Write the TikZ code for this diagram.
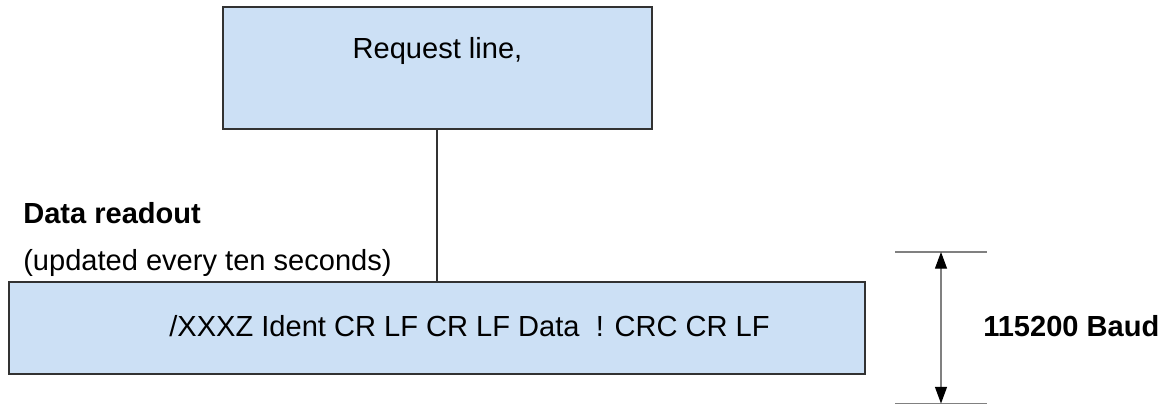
\documentclass[tikz,border=0pt]{standalone}
\usepackage{fontspec}
\setmainfont{Liberation Sans}
\usetikzlibrary{arrows.meta}
\definecolor{boxfill}{RGB}{204,224,245}
\definecolor{boxline}{RGB}{50,50,50}
\definecolor{dimline}{RGB}{128,128,128}
\begin{document}
\begin{tikzpicture}[x=0.75pt,y=-0.75pt,
  boxstyle/.style={draw=boxline, fill=boxfill, line width=0.8pt, inner sep=0pt, outer sep=0pt},
  txt/.style={font=\fontsize{21.8}{26}\selectfont, inner sep=0pt, anchor=base},
  btxt/.style={font=\fontsize{21.8}{26}\selectfont\bfseries, inner sep=0pt, anchor=base west},
  ltxt/.style={font=\fontsize{21.8}{26}\selectfont, inner sep=0pt, anchor=base west},
  conn/.style={draw=boxline, line width=0.8pt},
  dimh/.style={draw=dimline, line width=0.9pt},
  dima/.style={draw=dimline, line width=0.9pt, {Triangle[length=12.5pt,width=9pt,black]}-{Triangle[length=12.5pt,width=9pt,black]}}
]
\useasboundingbox (0,0) rectangle (1168,405);
% boxes
\node[boxstyle, minimum width=429*0.75pt, minimum height=122*0.75pt] (req) at (437.5,68) {};
\node[boxstyle, minimum width=856*0.75pt, minimum height=92*0.75pt] (data) at (437,328) {};
\node[txt] (reqt) at (437.5,58) {Request line,};
\node[txt] (datat) at (469.5,336) {/XXXZ Ident CR LF CR LF Data\ \ ! CRC CR LF};
% connector
\draw[conn] (req.south -| 437,0) -- (data.north -| 437,0);
% labels
\node[btxt] (title) at (23,223) {Data readout};
\node[ltxt] (sub) at (23,270) {(updated every ten seconds)};
% dimension
\coordinate (dtl) at (895,252);
\coordinate (dtr) at (987,252);
\coordinate (dbl) at (895,403.5);
\coordinate (dbr) at (987,403.5);
\coordinate (dat) at (941,252);
\coordinate (dab) at (941,403.5);
\draw[dimh] (dtl) -- (dtr);
\draw[dimh] (dbl) -- (dbr);
\draw[dima] (dat) -- (dab);
\node[btxt] (baud) at (983,336) {115200 Baud};
\end{tikzpicture}
\end{document}
